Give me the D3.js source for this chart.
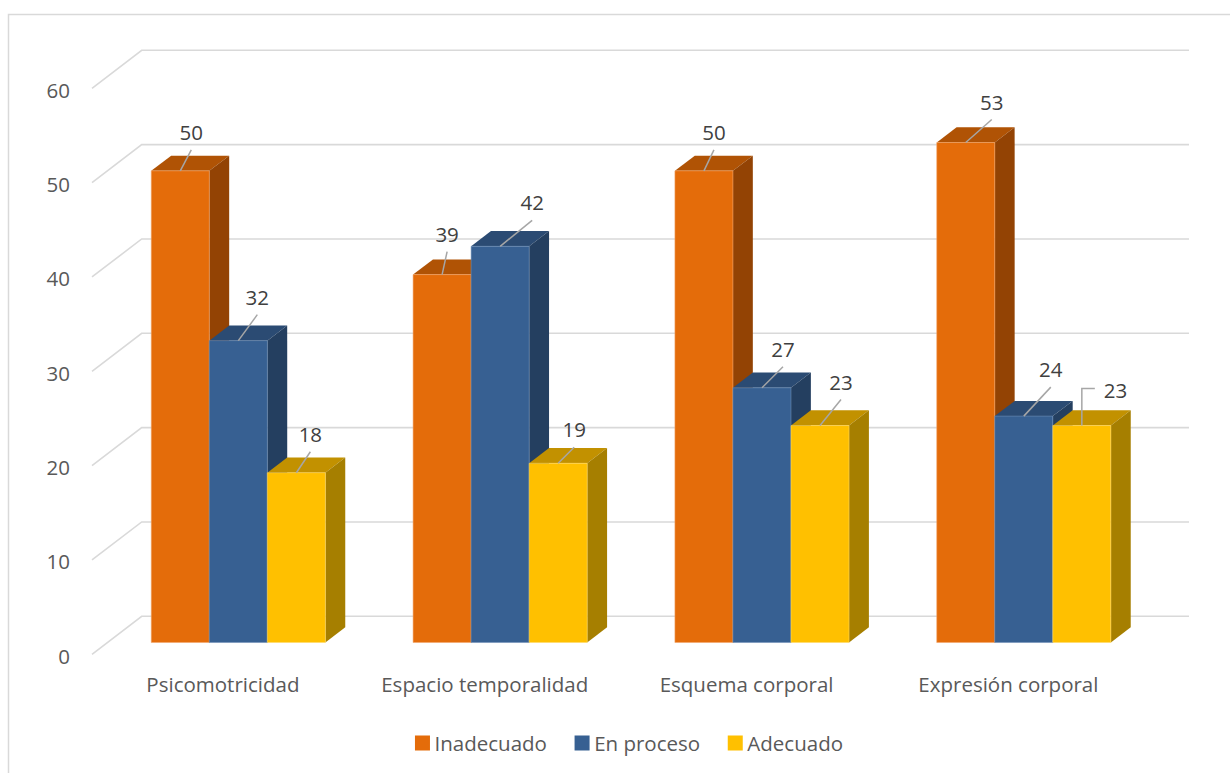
<!DOCTYPE html>
<html>
<head>
<meta charset="utf-8">
<script src="https://cdn.jsdelivr.net/npm/d3@7"></script>
<style>
  html, body { margin: 0; padding: 0; background: #fff; }
  svg { display: block; font-family: "Open Sans", "Noto Sans", sans-serif; }
</style>
</head>
<body>
<script>
// Chart data
const categories = ["Psicomotricidad", "Espacio temporalidad", "Esquema corporal", "Expresión corporal"];
const seriesNames = ["Inadecuado", "En proceso", "Adecuado"];
const inadecuado = [50, 39, 50, 53];
const enProceso = [32, 42, 27, 24];
const adecuado = [18, 19, 23, 23];
const yTicks = [0, 10, 20, 30, 40, 50, 60];

// Face colours for each series: front, top, side
const faceColors = [
  { front: "#E46C0A", top: "#B05305", side: "#934304", edge: "#F2A66A" },
  { front: "#376092", top: "#2B4B73", side: "#243F60", edge: "#6F8FB8" },
  { front: "#FFC000", top: "#C29100", side: "#A67F00", edge: "#FFD966" }
];

// Leader-line offsets for the value labels [dx, dy, style], per category then series
const labelLeaders = [
  [[11, -21], [19, -26], [14, -21]],
  [[5, -23], [32, -26], [16, -16]],
  [[10, -21], [21, -21], [21, -26]],
  [[26, -23], [27, -29], [0, -37, "elbow"]]
];

const seriesValues = [inadecuado, enProceso, adecuado];
const FS = 20.5;

const W = 1230, H = 773;
const svg = d3.select("body").append("svg").attr("width", W).attr("height", H);

// chart area border
svg.append("rect")
  .attr("x", 8.5).attr("y", 14.5).attr("width", 1240).attr("height", 780)
  .attr("fill", "none").attr("stroke", "#D9D9D9").attr("stroke-width", 1.5);

// Scales (front floor edge), depth projection
const x0 = d3.scaleBand().domain(categories).range([92, 1139.3])
  .paddingInner(0.335).paddingOuter(0.1675);
const x1 = d3.scaleBand().domain(seriesNames).range([0, x0.bandwidth()]);
const y = d3.scaleLinear().domain([0, 60]).range([654.3, 88.3]);
const DX = 49.7, DY = 38;
const zFront = 0.31, zBack = 0.71;
const proj = (x, v, z) => [x + z * DX, y(v) - z * DY];
const poly = pts => "M" + pts.map(p => p.join(",")).join("L") + "Z";

// Gridlines: side wall diagonal + back wall horizontal
const xMin = x0.range()[0], xMax = x0.range()[1];
svg.append("g").selectAll("path").data(yTicks).join("path")
  .attr("d", t => d3.line()([proj(xMin, t, 0), proj(xMin, t, 1), proj(xMax, t, 1)]))
  .attr("fill", "none").attr("stroke", "#D9D9D9").attr("stroke-width", 1.6);

// Y axis labels
svg.append("g").selectAll("text").data(yTicks).join("text")
  .attr("x", 70).attr("y", t => y(t) + 9.4)
  .attr("text-anchor", "end").attr("font-size", FS).attr("fill", "#595959")
  .text(t => t);

// Bars
const bars = [];
categories.forEach((c, ci) => {
  seriesNames.forEach((s, si) => {
    bars.push({ c, ci, s, si, v: seriesValues[si][ci] });
  });
});

const bw = x1.bandwidth();
const gBars = svg.append("g");
bars.forEach(b => {
  const xl = x0(b.c) + x1(b.s), xr = xl + bw, v = b.v;
  const col = faceColors[b.si];
  const g = gBars.append("g");
  g.append("path")
    .attr("d", poly([proj(xl, v, zFront), proj(xr, v, zFront), proj(xr, v, zBack), proj(xl, v, zBack)]))
    .attr("fill", col.top);
  g.append("path")
    .attr("d", poly([proj(xr, 0, zFront), proj(xr, v, zFront), proj(xr, v, zBack), proj(xr, 0, zBack)]))
    .attr("fill", col.side);
  g.append("path")
    .attr("d", poly([proj(xl, 0, zFront), proj(xr, 0, zFront), proj(xr, v, zFront), proj(xl, v, zFront)]))
    .attr("fill", col.front).attr("stroke", col.edge).attr("stroke-width", 0.8).attr("stroke-opacity", 0.7);
});

// Value labels with leader lines
const gLabels = svg.append("g");
bars.forEach(b => {
  const xl = x0(b.c) + x1(b.s);
  const [ax, ay] = proj(xl + bw / 2, b.v, zFront);
  const [dx, dy, style] = labelLeaders[b.ci][b.si];
  if (style === "elbow") {
    const ty = ay + dy;
    gLabels.append("path")
      .attr("d", d3.line()([[ax, ay], [ax, ty], [ax + 13, ty]]))
      .attr("fill", "none").attr("stroke", "#A6A6A6").attr("stroke-width", 1.5);
    gLabels.append("text")
      .attr("x", ax + 22).attr("y", ty + 9)
      .attr("font-size", FS).attr("fill", "#404040")
      .text(b.v);
  } else {
    const tx = ax + dx, ty = ay + dy;
    gLabels.append("line")
      .attr("x1", ax).attr("y1", ay).attr("x2", tx).attr("y2", ty)
      .attr("stroke", "#A6A6A6").attr("stroke-width", 1.5);
    gLabels.append("text")
      .attr("x", tx).attr("y", ty - 10)
      .attr("text-anchor", "middle").attr("font-size", FS).attr("fill", "#404040")
      .text(b.v);
  }
});

// Category labels
svg.append("g").selectAll("text").data(categories).join("text")
  .attr("x", c => x0(c) + x0.bandwidth() / 2).attr("y", 691.5)
  .attr("text-anchor", "middle").attr("font-size", FS).attr("fill", "#595959")
  .text(c => c);

// Legend
const legend = svg.append("g");
const items = seriesNames.map((s, i) => {
  const g = legend.append("g");
  g.append("rect").attr("x", 0).attr("y", -15).attr("width", 15).attr("height", 15)
    .attr("fill", faceColors[i].front);
  const t = g.append("text").attr("x", 19.6).attr("y", 0)
    .attr("font-size", FS).attr("fill", "#595959").text(s);
  return { g, w: 19.6 + t.node().getComputedTextLength() };
});
const gap = 27.6;
const total = d3.sum(items, d => d.w) + gap * (items.length - 1);
let lx = 629 - total / 2;
items.forEach(it => {
  it.g.attr("transform", `translate(${lx},750.5)`);
  lx += it.w + gap;
});
</script>
</body>
</html>
